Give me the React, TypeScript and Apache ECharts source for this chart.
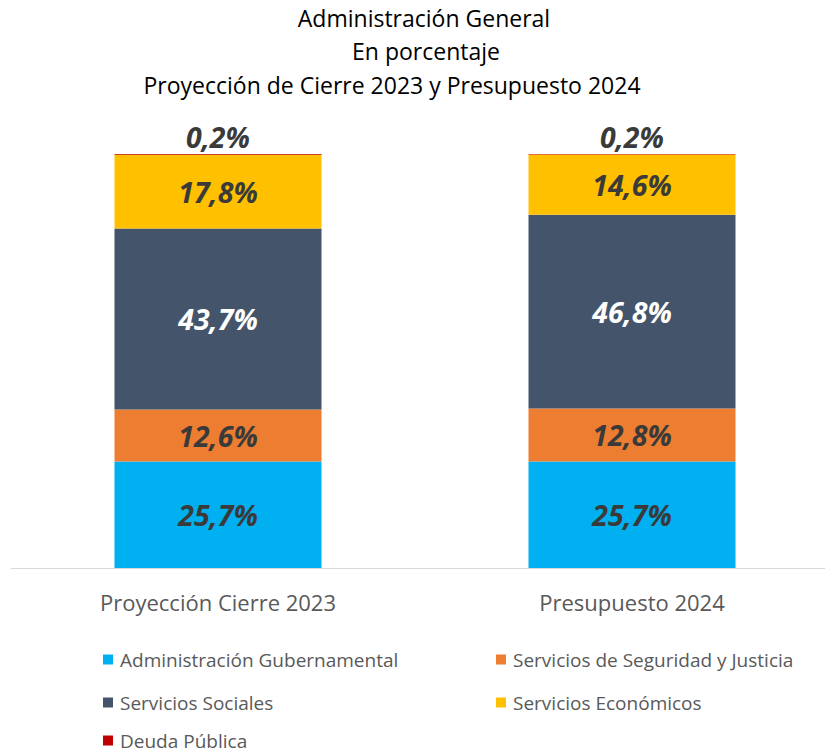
import React, { useEffect, useRef } from "react";
import * as echarts from "echarts";

const categories = ["Proyección Cierre 2023", "Presupuesto 2024"];
const adminGub = [25.7, 25.7];
const seguridad = [12.6, 12.8];
const sociales = [43.7, 46.8];
const economicos = [17.8, 14.6];
const deuda = [0.2, 0.2];
const titleLines = ["Administración General", "En porcentaje", "Proyección de Cierre 2023 y Presupuesto 2024"];
const seriesNames = [
  "Administración Gubernamental",
  "Servicios de Seguridad y Justicia",
  "Servicios Sociales",
  "Servicios Económicos",
  "Deuda Pública",
];

const FONT = "'Open Sans', sans-serif";

export default function App() {
  const ref = useRef<HTMLDivElement>(null);
  useEffect(() => {
    if (!ref.current) return;
    const chart = echarts.init(ref.current, undefined, { renderer: "svg" });
    const fmt = (p: any) => p.value.toFixed(1).replace(".", ",") + "%";
    const label = {
      show: true,
      position: "inside",
      formatter: fmt,
      color: "#3A3A3A",
      fontFamily: FONT,
      fontSize: 28.5,
      fontWeight: "bold",
      fontStyle: "italic",
    };
    const mk = (name: string, data: number[], color: string, extra: any = {}) => ({
      name,
      type: "bar",
      stack: "total",
      data,
      barWidth: "50%",
      itemStyle: { color },
      label,
      ...extra,
    });
    const legendItem = (name: string, left: number, centerY: number) => ({
      left,
      top: centerY - 9,
      padding: 0,
      itemWidth: 10,
      itemHeight: 10,
      icon: "rect",
      data: [name],
      textStyle: { color: "#595959", fontSize: 19, fontFamily: FONT, lineHeight: 18, padding: [0, 0, 0, 2] },
    });
    const titleText = (text: string, x: number, y: number) => ({
      type: "text",
      x,
      y,
      style: { text, font: `23px ${FONT}`, fill: "#000", align: "center", verticalAlign: "middle" },
    });
    chart.setOption({
      animation: false,
      textStyle: { fontFamily: FONT },
      graphic: [
        titleText(titleLines[0], 424, 18),
        titleText(titleLines[1], 426, 51),
        titleText(titleLines[2], 392, 85),
      ],
      grid: { left: 11, right: 1, top: 154, bottom: 186, containLabel: false },
      xAxis: {
        type: "category",
        data: categories,
        axisLine: { lineStyle: { color: "#D9D9D9", width: 1 } },
        axisTick: { show: false },
        axisLabel: { color: "#595959", fontSize: 22, fontFamily: FONT, margin: 23 },
      },
      yAxis: { type: "value", min: 0, max: 100, show: false, splitLine: { show: false } },
      legend: [
        legendItem(seriesNames[0], 103, 659),
        legendItem(seriesNames[1], 496, 659),
        legendItem(seriesNames[2], 103, 702),
        legendItem(seriesNames[3], 496, 702),
        legendItem(seriesNames[4], 103, 740),
      ],
      series: [
        mk(seriesNames[0], adminGub, "#00B0F0"),
        mk(seriesNames[1], seguridad, "#ED7D31"),
        mk(seriesNames[2], sociales, "#44546A", { label: { ...label, color: "#FFFFFF" } }),
        mk(seriesNames[3], economicos, "#FFC000"),
        mk(seriesNames[4], deuda, "#C00000", {
          barMinHeight: 2,
          label: { ...label, position: "top", distance: 3 },
        }),
      ],
    });
    return () => chart.dispose();
  }, []);
  return (
    <div style={{ position: "absolute", left: 0, top: 0, width: 825, height: 754, overflow: "hidden" }}>
      <div ref={ref} style={{ width: 840, height: 754 }} />
    </div>
  );
}
